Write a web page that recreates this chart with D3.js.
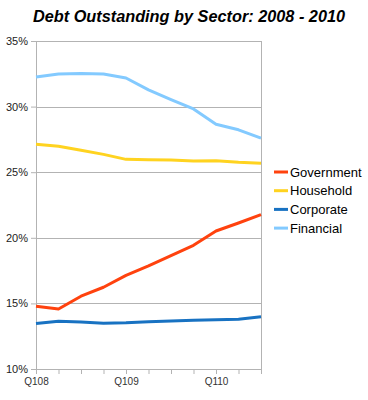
<!DOCTYPE html>
<html>
<head>
<meta charset="utf-8">
<script src="https://cdn.jsdelivr.net/npm/d3@7"></script>
<style>
  body { margin: 0; background: #fff; }
  svg { display: block; font-family: 'Liberation Sans', Arial, sans-serif; }
</style>
</head>
<body>
<svg id="chart" width="368" height="400"></svg>
<script>
const quarters = ['Q108', 'Q208', 'Q308', 'Q408', 'Q109', 'Q209', 'Q309', 'Q409', 'Q110', 'Q210', 'Q310'];
const quarterLabels = ['Q108', 'Q109', 'Q110'];
const government = [14.78, 14.57, 15.55, 16.23, 17.14, 17.86, 18.64, 19.43, 20.52, 21.13, 21.77];
const household = [27.13, 26.97, 26.68, 26.36, 25.98, 25.95, 25.93, 25.85, 25.88, 25.76, 25.68];
const corporate = [13.46, 13.64, 13.58, 13.48, 13.52, 13.6, 13.66, 13.71, 13.76, 13.8, 13.98];
const financial = [32.26, 32.48, 32.52, 32.48, 32.18, 31.27, 30.53, 29.82, 28.65, 28.23, 27.6];
const yTicks = [10, 15, 20, 25, 30, 35];

const series = [
  {name: 'Government', values: government, color: '#ff420e'},
  {name: 'Household', values: household, color: '#ffd320'},
  {name: 'Corporate', values: corporate, color: '#1872c2'},
  {name: 'Financial', values: financial, color: '#83caff'},
];

const margin = {top: 41, left: 36, right: 107, bottom: 31};
const width = 368 - margin.left - margin.right;
const height = 400 - margin.top - margin.bottom;

const svg = d3.select('#chart');

svg.append('text')
    .attr('x', 189)
    .attr('y', 22)
    .attr('text-anchor', 'middle')
    .style('font-size', '16.3px')
    .style('font-weight', 'bold')
    .style('font-style', 'italic')
    .attr('fill', '#000')
    .text('Debt Outstanding by Sector: 2008 - 2010');

const g = svg.append('g')
    .attr('transform', `translate(${margin.left}, ${margin.top})`);

const x = d3.scalePoint()
    .domain(quarters)
    .range([0, width]);

const y = d3.scaleLinear()
    .domain([10, 35])
    .range([height, 0]);

// grid lines
g.append('g')
    .selectAll('line')
    .data(yTicks)
    .join('line')
    .attr('x1', 0)
    .attr('x2', width)
    .attr('y1', (d) => Math.round(y(d)) + 0.5)
    .attr('y2', (d) => Math.round(y(d)) + 0.5)
    .attr('stroke', '#b3b3b3');

// right border
g.append('line')
    .attr('x1', width + 0.5)
    .attr('x2', width + 0.5)
    .attr('y1', 0)
    .attr('y2', height)
    .attr('stroke', '#b3b3b3');

const yAxis = d3.axisLeft(y)
    .tickValues(yTicks)
    .tickSize(5)
    .tickPadding(3)
    .tickFormat((d) => d + '%');

const yg = g.append('g').call(yAxis);
yg.select('.domain').attr('stroke', '#b3b3b3');
yg.selectAll('.tick line').attr('stroke', '#b3b3b3');
yg.selectAll('.tick text')
    .style('font-size', '11px')
    .attr('fill', '#222');

const xAxis = d3.axisBottom(x)
    .tickSize(5)
    .tickPadding(4)
    .tickFormat((d) => quarterLabels.includes(d) ? d : '');

const xg = g.append('g')
    .attr('transform', `translate(0, ${height})`)
    .call(xAxis);
xg.select('.domain').attr('stroke', '#b3b3b3');
xg.selectAll('.tick line').attr('stroke', '#b3b3b3');
xg.selectAll('.tick text')
    .style('font-size', '10px')
    .attr('fill', '#333');

const line = d3.line()
    .x((d, i) => x(quarters[i]))
    .y((d) => y(d));

g.selectAll('.series')
    .data(series)
    .join('path')
    .attr('class', 'series')
    .attr('fill', 'none')
    .attr('stroke', (d) => d.color)
    .attr('stroke-width', 3)
    .attr('stroke-linejoin', 'round')
    .attr('d', (d) => line(d.values));

// legend
const legend = svg.append('g')
    .attr('transform', 'translate(274, 172)');

const items = legend.selectAll('g')
    .data(series)
    .join('g')
    .attr('transform', (d, i) => `translate(0, ${i * 18.7})`);

items.append('line')
    .attr('x1', 0)
    .attr('x2', 14)
    .attr('stroke', (d) => d.color)
    .attr('stroke-width', 3);

items.append('text')
    .attr('x', 16)
    .attr('dy', '0.35em')
    .style('font-size', '13px')
    .attr('fill', '#000')
    .text((d) => d.name);
</script>
</body>
</html>
